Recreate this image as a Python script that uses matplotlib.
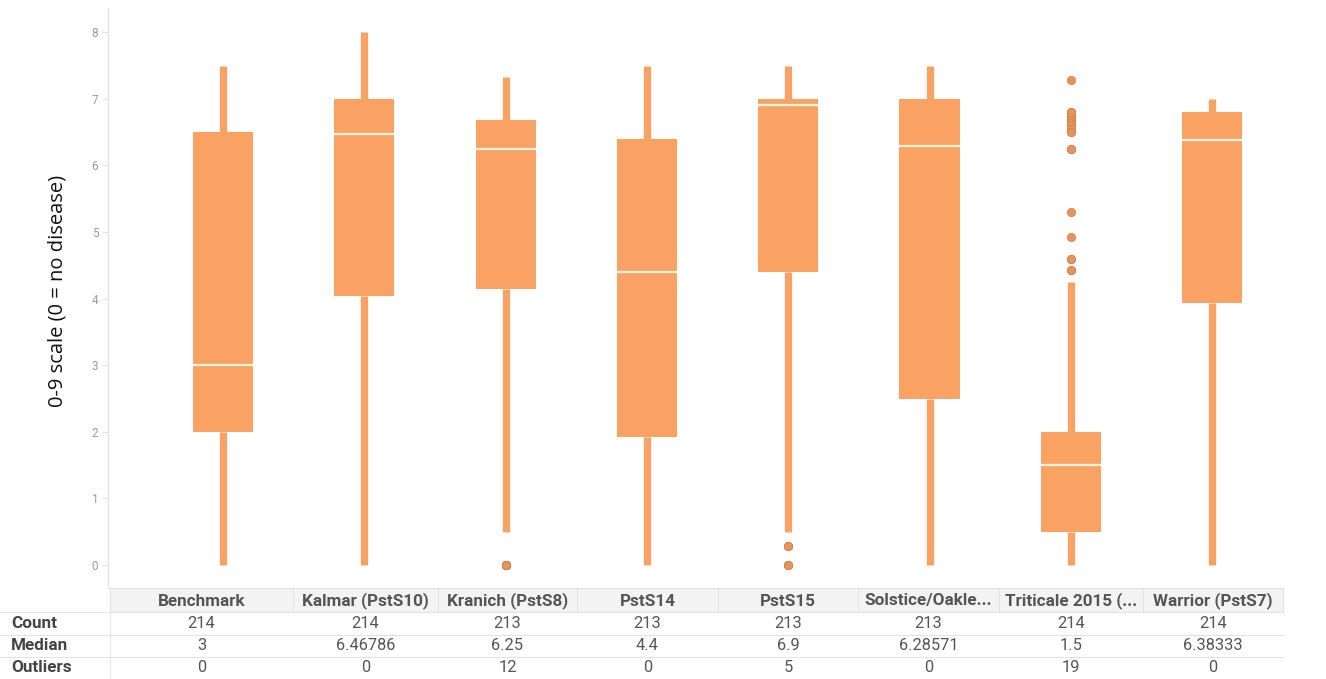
import matplotlib
matplotlib.use("Agg")
import matplotlib.pyplot as plt
from matplotlib.lines import Line2D
from matplotlib.patches import Rectangle

# ---------------- data ----------------
categories = ["Benchmark", "Kalmar (PstS10)", "Kranich (PstS8)", "PstS14", "PstS15",
              "Solstice/Oakle...", "Triticale 2015 (...", "Warrior (PstS7)"]
whisker_low = [0, 0, 0.5, 0, 0.5, 0, 0, 0]
q1 = [2.0, 4.04, 4.14, 1.92, 4.4, 2.5, 0.5, 3.94]
medians = [3, 6.46786, 6.25, 4.4, 6.9, 6.28571, 1.5, 6.38333]
q3 = [6.5, 7.0, 6.68, 6.4, 7.0, 7.0, 2.0, 6.8]
whisker_high = [7.5, 8.0, 7.33, 7.5, 7.5, 7.5, 4.25, 7.0]
outlier_values = [
    [],
    [],
    [0.0] * 12,
    [],
    [0.29, 0.29, 0.0, 0.0, 0.0],
    [],
    [7.28, 6.8, 6.76, 6.72, 6.68, 6.64, 6.6, 6.55, 6.5, 6.5, 6.25, 6.25,
     5.3, 4.92, 4.6, 4.43, 4.43, 4.6, 6.8],
    [],
]
counts = [214, 214, 213, 213, 213, 213, 214, 214]
median_labels = ["3", "6.46786", "6.25", "4.4", "6.9", "6.28571", "1.5", "6.38333"]
outlier_counts = [0, 0, 12, 0, 5, 0, 19, 0]
y_ticks = [0, 1, 2, 3, 4, 5, 6, 7, 8]
y_label = "0-9 scale (0 = no disease)"
row_labels = ["Count", "Median", "Outliers"]

# ---------------- style ----------------
W, H = 1326, 679
DPI = 100
BOX = "#F9A263"
FLIER = "#E8935B"
FLIER_EDGE = "#D07F50"

fig = plt.figure(figsize=(W / DPI, H / DPI), dpi=DPI)
fig.patch.set_facecolor("white")

def fx(px):
    return px / W

def fy(py):
    return 1 - py / H

ax_left, ax_right, ax_top, ax_bottom = 108, 1326, 8, 588
ax = fig.add_axes([fx(ax_left), fy(ax_bottom), fx(ax_right - ax_left), (ax_bottom - ax_top) / H])

stats = []
for i in range(len(categories)):
    stats.append(dict(med=medians[i], q1=q1[i], q3=q3[i],
                      whislo=whisker_low[i], whishi=whisker_high[i],
                      fliers=outlier_values[i], label=categories[i]))

positions = list(range(len(categories)))
ax.bxp(stats, positions=positions, widths=0.425, patch_artist=True,
       showcaps=False,
       boxprops=dict(facecolor=BOX, edgecolor=BOX, linewidth=0),
       whiskerprops=dict(color=BOX, linewidth=5.2, solid_capstyle="butt"),
       medianprops=dict(color="#FFF4E0", linewidth=1.6),
       flierprops=dict(marker="o", markersize=6, markerfacecolor=FLIER,
                       markeredgecolor=FLIER_EDGE, markeredgewidth=0.5, linestyle="none"))

spacing = 141.3
x0 = 223
ax.set_xlim((ax_left - x0) / spacing, (ax_right - x0) / spacing)
ppu = 66.6
y0 = 565
ax.set_ylim((y0 - ax_bottom) / ppu, (y0 - ax_top) / ppu)
ax.set_xticks([])
ax.set_yticks(y_ticks)
ax.set_yticklabels([str(t) for t in y_ticks], fontsize=8.5, color="#9a9a9a", family="Roboto")
ax.tick_params(axis="y", length=4, width=0.8, color="#e4e4e4", pad=3)
for s in ["top", "right", "bottom"]:
    ax.spines[s].set_visible(False)
ax.spines["left"].set_color("#e2e2e2")
ax.spines["left"].set_linewidth(1.0)

fig.text(fx(57), fy(291), y_label, rotation=90, ha="center", va="center",
         fontsize=14.5, color="#111111", family="Open Sans")

# ---------------- table ----------------
col_edges = [110, 293, 438, 577, 718, 858, 999, 1143, 1283]
header_top, header_bot = 588, 612
row_lines = [612, 635, 657]
row_centers = [624, 646, 668]

fig.add_artist(Rectangle((fx(col_edges[0]), fy(header_bot)), fx(col_edges[-1] - col_edges[0]),
                         (header_bot - header_top) / H, transform=fig.transFigure,
                         facecolor="#f3f3f3", edgecolor="none"))
fig.add_artist(Line2D([fx(col_edges[0]), fx(col_edges[-1])], [fy(header_top), fy(header_top)],
                      transform=fig.transFigure, color="#e0e0e0", linewidth=0.8))
for yl in row_lines:
    fig.add_artist(Line2D([0, fx(col_edges[-1])], [fy(yl), fy(yl)],
                          transform=fig.transFigure, color="#e3e3e3", linewidth=0.8))
for xe in col_edges:
    fig.add_artist(Line2D([fx(xe), fx(xe)], [fy(header_top), fy(header_bot)],
                          transform=fig.transFigure, color="#e3e3e3", linewidth=0.8))
fig.add_artist(Line2D([fx(col_edges[0]), fx(col_edges[0])], [fy(header_bot), fy(H)],
                      transform=fig.transFigure, color="#e6e6e6", linewidth=0.8))

for i, cat in enumerate(categories):
    cx = (col_edges[i] + col_edges[i + 1]) / 2
    fig.text(fx(cx), fy(601), cat, ha="center", va="center", fontsize=12.3,
             fontweight="bold", color="#555555", family="Roboto")
    vals = [str(counts[i]), median_labels[i], str(outlier_counts[i])]
    for r, v in enumerate(vals):
        fig.text(fx(cx), fy(row_centers[r]), v, ha="center", va="center",
                 fontsize=11.8, color="#555555", family="Roboto")

for r, lab in enumerate(row_labels):
    fig.text(fx(11), fy(row_centers[r]), lab, ha="left", va="center", fontsize=12.3,
             fontweight="bold", color="#444444", family="Roboto")

fig.savefig("out.png", dpi=DPI, facecolor="white")
